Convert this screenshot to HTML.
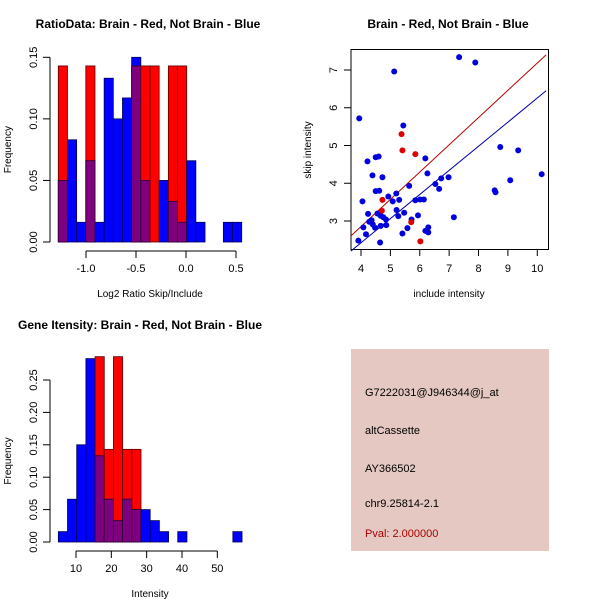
<!DOCTYPE html>
<html><head><meta charset="utf-8"><style>
body{margin:0;background:#fff;}
svg{display:block;font-family:"Liberation Sans",sans-serif;}
</style></head><body>
<svg id="s" width="600" height="600" viewBox="0 0 600 600">
<rect width="600" height="600" fill="#fff"/>
<text x="148" y="28" font-size="12" font-weight="bold" text-anchor="middle">RatioData: Brain - Red, Not Brain - Blue</text>
<text x="448" y="28" font-size="12" font-weight="bold" text-anchor="middle">Brain - Red, Not Brain - Blue</text>
<text x="140" y="329" font-size="12" font-weight="bold" text-anchor="middle">Gene Itensity: Brain - Red, Not Brain - Blue</text>
<g id="p1"></g>
<g id="p2"></g>
<g id="p3"></g>
<g>
<rect x="351" y="349" width="198" height="202" fill="#E5C8C1"/>
<text x="365" y="396" font-size="11">G7222031@J946344@j_at</text>
<text x="365" y="434" font-size="11">altCassette</text>
<text x="365" y="472" font-size="11">AY366502</text>
<text x="365" y="507" font-size="11">chr9.25814-2.1</text>
<text x="365" y="537" font-size="11" fill="#AA0000">Pval: 2.000000</text>
</g>
</svg>
<script>
const ratioStart=-1.277, ratioWidth=0.0917;
const ratioBlue=[0.05,0.083,0.016,0.066,0.016,0.133,0.1,0.117,0.15,0.05,0,0.05,0.033,0.016,0.066,0.016,0,0,0.016,0.016];
const ratioRed=[0.143,0,0,0.143,0,0,0,0,0.143,0.143,0.143,0,0.143,0.143,0,0,0,0,0,0];
const ratioXTicks=[-1.0,-0.5,0.0,0.5];
const ratioYTicks=[0.00,0.05,0.10,0.15];
const intStart=5.0, intWidth=2.6;
const intBlue=[0.016,0.066,0.15,0.283,0.133,0.066,0.033,0.066,0.05,0.05,0.033,0.016,0,0.016,0,0,0,0,0,0.016];
const intRed=[0,0,0,0,0.286,0.143,0.286,0.143,0.143,0,0,0,0,0,0,0,0,0,0,0];
const intXTicks=[10,20,30,40,50];
const intYTicks=[0.00,0.05,0.10,0.15,0.20,0.25];
const blueX=[3.94,7.34,7.89,5.13,5.44,8.74,9.35,4.22,4.50,4.60,4.39,4.73,10.15,6.19,6.26,5.64,6.53,6.73,6.98,6.66,4.50,4.62,4.93,5.20,4.05,5.08,5.30,5.85,6.01,6.14,8.55,8.58,9.08,4.24,4.56,4.36,4.28,4.40,4.48,4.08,4.67,4.76,4.85,5.21,5.27,5.47,5.72,5.94,4.67,4.86,4.17,3.91,4.65,5.41,5.58,6.19,6.29,6.29,7.16];
const blueY=[5.72,7.34,7.20,6.96,5.53,4.96,4.87,4.58,4.69,4.71,4.21,4.16,4.24,4.66,4.26,3.93,3.98,4.13,4.16,3.85,3.79,3.80,3.65,3.73,3.52,3.52,3.56,3.55,3.57,3.57,3.81,3.76,4.08,3.19,3.20,3.02,2.98,2.91,2.82,2.83,3.14,3.10,3.04,3.29,3.13,3.22,3.04,3.15,2.87,2.89,2.65,2.48,2.43,2.67,2.81,2.74,2.83,2.70,3.10];
const redX=[5.38,5.41,5.85,4.73,4.71,5.71,6.02];
const redY=[5.30,4.87,4.77,3.56,3.27,2.97,2.46];
const redLine=[[3.65,2.6],[10.3,7.4]];
const blueLine=[[3.65,2.2],[10.3,6.45]];
const scXTicks=[4,5,6,7,8,9,10];
const scYTicks=[3,4,5,6,7];

const NS="http://www.w3.org/2000/svg";
function mk(p,t,a){const e=document.createElementNS(NS,t);for(const k in a)e.setAttribute(k,a[k]);p.appendChild(e);return e;}

function hist(g,start,w,blue,red,sx,sy,xt,yt,axisY,xlab,xlabY,fmtX){
  for(let i=0;i<blue.length;i++){
    const x0=sx(start+i*w),x1=sx(start+(i+1)*w);
    const b=blue[i],r=red[i],m=Math.min(b,r);
    if(r>0){const e=mk(g,'rect',{x:x0,y:sy(r),width:x1-x0,height:sy(0)-sy(r),fill:'#FF0000',stroke:'#550000','stroke-width':0.8});
      
      }
    if(b>0){const e=mk(g,'rect',{x:x0,y:sy(b),width:x1-x0,height:sy(0)-sy(b),fill:'#0000FF',stroke:'#000055','stroke-width':0.8});
      
      }
    if(m>0){const e=mk(g,'rect',{x:x0,y:sy(m),width:x1-x0,height:sy(0)-sy(m),fill:'#7F007F',stroke:'#330033','stroke-width':0.8});
      
      }
  }
  const yax=mk(g,'g',{});
  
  
  mk(yax,'line',{x1:50,x2:50,y1:sy(yt[0]),y2:sy(yt[yt.length-1]),stroke:'#000'});
  yt.forEach(v=>{mk(yax,'line',{x1:43,x2:50,y1:sy(v),y2:sy(v),stroke:'#000'});
    const t=mk(yax,'text',{x:0,y:0,'font-size':11,'text-anchor':'middle',transform:`translate(37,${sy(v)}) rotate(-90)`});t.textContent=v.toFixed(2);});
  const xax=mk(g,'g',{});
  
  
  mk(xax,'line',{x1:sx(xt[0]),x2:sx(xt[xt.length-1]),y1:axisY,y2:axisY,stroke:'#000'});
  xt.forEach(v=>{mk(xax,'line',{x1:sx(v),x2:sx(v),y1:axisY,y2:axisY+7,stroke:'#000'});
    const t=mk(xax,'text',{x:sx(v),y:axisY+21,'font-size':11,'text-anchor':'middle'});t.textContent=fmtX(v);});
  const xl=mk(g,'text',{x:150,y:xlabY,'font-size':10,'text-anchor':'middle'});xl.textContent=xlab;
  
  
  const yl=mk(g,'text',{x:0,y:0,'font-size':10,'text-anchor':'middle',transform:`translate(11,${(sy(yt[0])+sy(yt[yt.length-1]))/2}) rotate(-90)`});yl.textContent='Frequency';
  
  
}
const p1=document.getElementById('p1');
hist(p1,ratioStart,ratioWidth,ratioBlue,ratioRed,v=>186+v*100,v=>242-v*1231.3,ratioXTicks,ratioYTicks,251,'Log2 Ratio Skip/Include',297,v=>v.toFixed(1));
const p3=document.getElementById('p3');
hist(p3,intStart,intWidth,intBlue,intRed,v=>76+(v-10)*3.533,v=>542-v*648,intXTicks,intYTicks,551,'Intensity',597,v=>String(v));

// scatter
const p2=document.getElementById('p2');
const sx=v=>361+(v-4)*29.38, sy=v=>221-(v-3)*37.75;
mk(p2,'rect',{x:351,y:49.5,width:197.5,height:200,fill:'none',stroke:'#000'});
const rl=mk(p2,'line',{x1:sx(redLine[0][0]),y1:sy(redLine[0][1]),x2:sx(redLine[1][0]),y2:sy(redLine[1][1]),stroke:'#BB0000'});


const bl=mk(p2,'line',{x1:sx(blueLine[0][0]),y1:sy(blueLine[0][1]),x2:sx(blueLine[1][0]),y2:sy(blueLine[1][1]),stroke:'#0000AA'});


blueX.forEach((v,i)=>{const c=mk(p2,'circle',{cx:sx(v),cy:sy(blueY[i]),r:3,fill:'#0000DD'});
  
  });
redX.forEach((v,i)=>{const c=mk(p2,'circle',{cx:sx(v),cy:sy(redY[i]),r:3,fill:'#DD0000'});
  
  });
scXTicks.forEach(v=>{mk(p2,'line',{x1:sx(v),x2:sx(v),y1:249.5,y2:256,stroke:'#000'});
  const t=mk(p2,'text',{x:sx(v),y:272,'font-size':11,'text-anchor':'middle'});t.textContent=v;});
scYTicks.forEach(v=>{mk(p2,'line',{x1:344,x2:351,y1:sy(v),y2:sy(v),stroke:'#000'});
  const t=mk(p2,'text',{x:0,y:0,'font-size':11,'text-anchor':'middle',transform:`translate(337,${sy(v)}) rotate(-90)`});t.textContent=v;});
const sxl=mk(p2,'text',{x:449,y:297,'font-size':10,'text-anchor':'middle'});sxl.textContent='include intensity';


const syl=mk(p2,'text',{x:0,y:0,'font-size':10,'text-anchor':'middle',transform:'translate(311,150) rotate(-90)'});syl.textContent='skip intensity';


</script>
</body></html>
